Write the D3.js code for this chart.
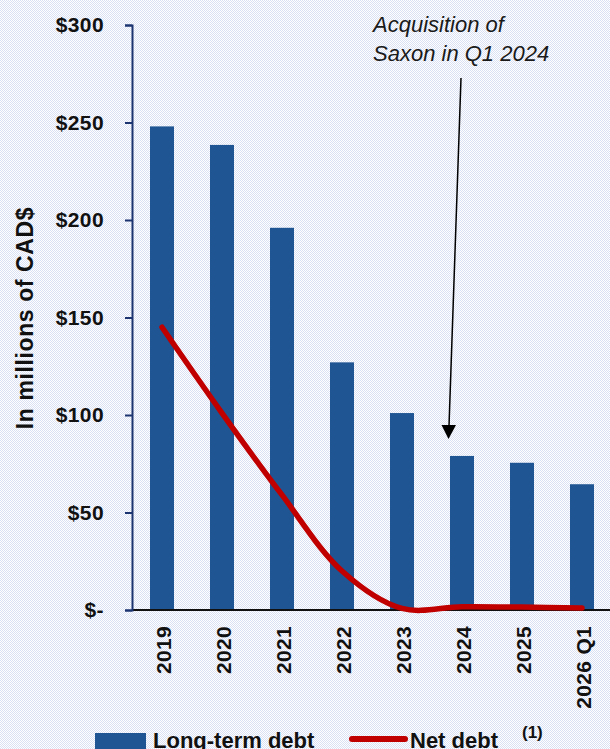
<!DOCTYPE html>
<html>
<head>
<meta charset="utf-8">
<script src="https://cdn.jsdelivr.net/npm/d3@7"></script>
<style>
  html, body { margin: 0; padding: 0; background: #fff; }
  svg { display: block; font-family: "Liberation Sans", Arial, sans-serif; }
</style>
</head>
<body>
<div id="chart"></div>
<script>
const years = ["2019", "2020", "2021", "2022", "2023", "2024", "2025", "2026 Q1"];
const longTermDebt = [248, 238.5, 196, 127, 101, 79, 75.5, 64.5];
const netDebt = [145, 101, 59, 20, 0.8, 1.7, 1.5, 1];
const yTicks = [0, 50, 100, 150, 200, 250, 300];

const width = 610, height = 749;
const margin = { top: 25, left: 132, bottom: 139 };

const svg = d3.select('#chart')
  .append('svg')
  .attr('width', width)
  .attr('height', height);

// dotted light blue background
const defs = svg.append('defs');
const pat = defs.append('pattern')
  .attr('id', 'bg')
  .attr('width', 2)
  .attr('height', 2)
  .attr('patternUnits', 'userSpaceOnUse');
pat.append('rect').attr('width', 2).attr('height', 2).attr('fill', '#ffffff');
pat.append('rect').attr('width', 1).attr('height', 1).attr('fill', '#d9e0f3');
pat.append('rect').attr('x', 1).attr('y', 1).attr('width', 1).attr('height', 1).attr('fill', '#d9e0f3');

svg.append('rect')
  .attr('width', width)
  .attr('height', height)
  .attr('fill', 'url(#bg)');

const x = d3.scaleBand()
  .domain(years)
  .range([margin.left, margin.left + 480])
  .paddingInner(0.6)
  .paddingOuter(0.3);

const y = d3.scaleLinear()
  .domain([0, 300])
  .range([height - margin.bottom, margin.top]);

// bars
svg.append('g')
  .selectAll('rect')
  .data(years)
  .enter().append('rect')
  .attr('x', d => x(d))
  .attr('y', (d, i) => y(longTermDebt[i]))
  .attr('width', x.bandwidth())
  .attr('height', (d, i) => y(0) - y(longTermDebt[i]))
  .attr('fill', '#1f5592');

// x axis line
svg.append('line')
  .attr('x1', margin.left)
  .attr('x2', width)
  .attr('y1', y(0))
  .attr('y2', y(0))
  .attr('stroke', '#111')
  .attr('stroke-width', 2);

// y axis
const yAxis = svg.append('g')
  .attr('transform', `translate(${margin.left},0)`)
  .call(d3.axisLeft(y)
    .tickValues(yTicks)
    .tickSize(7)
    .tickSizeOuter(7)
    .tickPadding(21)
    .tickFormat(d => d === 0 ? '$-' : '$' + d));
yAxis.select('.domain').attr('stroke', '#1c3470').attr('stroke-width', 2);
yAxis.selectAll('.tick line').attr('stroke', '#1c3470').attr('stroke-width', 2);
yAxis.selectAll('.tick text')
  .attr('fill', '#111')
  .style('font-size', '21px')
  .style('font-weight', 'bold')
  .style('letter-spacing', '0.4px');

// x labels
svg.append('g')
  .selectAll('text')
  .data(years)
  .enter().append('text')
  .attr('transform', d => `translate(${x(d) + x.bandwidth() / 2 + 9},${y(0) + 16}) rotate(-90)`)
  .attr('text-anchor', 'end')
  .attr('fill', '#111')
  .style('font-size', '21px')
  .style('font-weight', 'bold')
  .style('letter-spacing', '0.3px')
  .text(d => d);

// y title
svg.append('text')
  .attr('transform', `translate(33,318) rotate(-90)`)
  .attr('text-anchor', 'middle')
  .attr('fill', '#111')
  .style('font-size', '23px')
  .style('font-weight', 'bold')
  .style('letter-spacing', '0.6px')
  .text('In millions of CAD$');

// net debt smoothed line
const line = d3.line()
  .x((d, i) => x(years[i]) + x.bandwidth() / 2)
  .y(d => y(d))
  .curve(d3.curveCatmullRom.alpha(0.5));

svg.append('path')
  .datum(netDebt)
  .attr('d', line)
  .attr('fill', 'none')
  .attr('stroke', '#c00000')
  .attr('stroke-width', 5.5)
  .attr('stroke-linecap', 'round');

// annotation
const note = svg.append('text')
  .attr('fill', '#1a1a1a')
  .style('font-size', '22px')
  .style('font-style', 'italic');
note.append('tspan').attr('x', 373).attr('y', 32).text('Acquisition of');
note.append('tspan').attr('x', 373).attr('y', 61).text('Saxon in Q1 2024');

svg.append('line')
  .attr('x1', 461).attr('y1', 78)
  .attr('x2', 449).attr('y2', 426)
  .attr('stroke', '#000')
  .attr('stroke-width', 1.5);
svg.append('path')
  .attr('d', 'M441.5,425 L456,425 L448.5,439 Z')
  .attr('fill', '#000');

// legend
svg.append('rect')
  .attr('x', 95).attr('y', 733)
  .attr('width', 51).attr('height', 16)
  .attr('fill', '#1f5592');
svg.append('text')
  .attr('x', 153).attr('y', 748)
  .attr('fill', '#111')
  .style('font-size', '22px')
  .style('font-weight', 'bold')
  .text('Long-term debt');

svg.append('line')
  .attr('x1', 352).attr('x2', 405)
  .attr('y1', 739).attr('y2', 739)
  .attr('stroke', '#c00000')
  .attr('stroke-width', 6)
  .attr('stroke-linecap', 'round');
svg.append('text')
  .attr('x', 410).attr('y', 748)
  .attr('fill', '#111')
  .style('font-size', '22px')
  .style('font-weight', 'bold')
  .text('Net debt');
svg.append('text')
  .attr('x', 522).attr('y', 738)
  .attr('fill', '#111')
  .style('font-size', '17px')
  .style('font-weight', 'bold')
  .text('(1)');
</script>
</body>
</html>
